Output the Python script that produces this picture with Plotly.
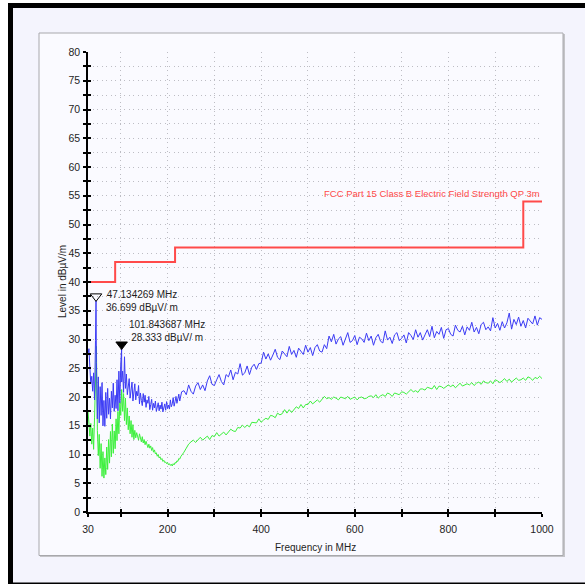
import numpy as np
import plotly.graph_objects as go

# Sweep definition: two segments (start MHz, step MHz)
seg_a_start, seg_a_step = 30, 2
seg_b_start, seg_b_step = 235, 5

# Peak detector levels (dBµV/m), 30..230 MHz
peak_a = [27.5, 28.4, 25.1, 22.3, 23.6, 21.0, 24.2, 19.5, 29.8, 26.0,
          16.2, 23.5, 15.5, 21.8, 16.8, 22.5, 15.0, 19.4, 14.9, 20.8,
          16.3, 21.5, 17.0, 19.8, 16.2, 21.0, 18.1, 22.4, 17.5, 20.3,
          18.0, 23.0, 17.6, 24.5, 19.0, 25.8, 22.6, 24.5, 20.8, 27.0,
          21.5, 24.0, 20.4, 22.1, 23.2, 19.8, 21.4, 22.6, 19.3, 20.6,
          22.3, 19.5, 21.0, 20.2, 22.0, 18.8, 20.7, 19.4, 18.5, 20.6,
          19.1, 20.3, 18.2, 19.5, 18.9, 20.1, 17.8, 18.7, 19.6, 17.7,
          18.9, 18.1, 19.3, 17.5, 18.4, 19.0, 17.6, 18.6, 17.9, 19.1,
          17.4, 18.3, 18.8, 17.7, 19.2, 18.0, 18.6, 17.9, 19.5, 18.3,
          18.8, 19.9, 18.4, 19.2, 20.1, 18.9, 19.6, 20.5, 19.3, 20.2,
          20.9]

# Peak detector levels (dBµV/m), 235..1000 MHz
peak_b = [21.1, 20.4, 22.1, 21.0, 20.5, 21.9, 22.5, 21.3, 22.1, 21.1,
          22.8, 23.7, 22.2, 22.0, 23.0, 23.9, 22.7, 22.1, 23.9, 23.5,
          24.7, 23.0, 24.3, 24.0, 25.8, 23.8, 24.2, 25.4, 23.9, 25.2,
          25.7, 24.8, 25.8,
          25.9, 27.8, 26.6, 27.5, 26.4, 27.3, 28.3, 26.9, 26.5, 28.0,
          27.4, 27.0, 28.8, 27.4, 28.1, 26.9, 28.5, 28.0, 27.4, 29.0,
          27.8, 28.6, 27.2, 28.6, 29.1, 28.0, 27.8, 29.1, 28.4,
          30.6, 29.6, 30.9, 29.2, 30.1, 30.5, 29.0, 30.3, 31.2, 29.5,
          29.8, 30.7, 29.1, 30.4, 30.1, 29.5, 31.1, 29.8, 30.6, 29.0,
          30.3, 30.9, 29.7, 29.4, 31.5, 29.9, 30.4, 29.3, 30.8, 31.2,
          29.8, 30.2, 30.8, 29.4, 31.2, 30.7, 30.0, 31.7, 30.4, 31.2,
          29.9, 30.8, 31.7, 30.5, 32.3, 30.3, 31.4, 30.9, 32.1, 30.2,
          31.7, 31.9, 30.9, 30.6, 32.5, 31.6, 31.3, 32.3, 30.8, 32.2,
          31.6, 33.0, 31.3, 32.1, 31.0, 32.6, 33.0, 31.7, 32.2, 31.5,
          33.8, 32.0, 32.8, 31.6, 33.1, 32.0, 32.9, 34.6, 31.8, 33.5,
          32.6, 33.9, 32.3, 33.3, 32.0, 33.7, 33.2, 32.7, 34.1, 32.5,
          33.8, 33.5]

# Average detector levels (dBµV/m), 30..230 MHz
avg_a = [17.6, 16.0, 13.2, 15.4, 11.8, 14.6, 10.9, 16.5, 22.0, 28.8,
         14.2, 9.8, 13.5, 7.6, 11.9, 6.2, 10.5, 5.9, 9.4, 6.5,
         11.3, 7.4, 12.6, 8.5, 14.0, 9.6, 15.3, 10.2, 14.1, 11.0,
         16.2, 12.4, 17.5, 13.6, 19.2, 16.8, 21.3, 17.5, 20.6, 15.9,
         19.8, 15.2, 18.1, 14.3, 16.7, 13.6, 15.9, 13.0, 15.2, 12.6,
         14.2, 12.9, 13.8, 13.1, 12.5, 13.6, 12.7, 12.2, 13.1, 12.0,
         12.6, 11.7, 12.3, 11.9, 11.2, 11.8, 11.1, 11.5, 10.7, 11.2,
         10.4, 10.8, 10.1, 10.3, 9.7, 10.0, 9.4, 9.6, 9.1, 9.3,
         8.8, 9.0, 8.6, 8.7, 8.4, 8.6, 8.2, 8.4, 8.1, 8.3,
         8.0, 8.4, 8.2, 8.6, 8.5, 8.9, 8.8, 9.3, 9.2, 9.6,
         9.9]

# Average detector levels (dBµV/m), 235..1000 MHz
avg_b = [10.4, 11.1, 11.8, 12.2,
         12.5, 12.1, 12.6, 13.0, 12.5, 12.8, 13.2, 12.6, 13.3, 13.1,
         13.8, 13.2, 13.5, 13.9, 13.4, 14.0, 14.4, 14.1, 14.0, 14.7,
         14.6, 15.1, 14.7, 15.1, 14.8, 15.6, 15.6, 15.5, 16.2, 15.6,
         16.0, 16.3, 16.1, 16.8, 16.7, 16.4, 17.2, 16.9, 17.1, 17.8,
         17.2, 17.8, 17.3, 17.9, 18.3, 18.0, 18.7, 18.1, 18.7, 18.7,
         19.3, 18.8, 19.2, 19.5, 19.1, 19.7, 20.1, 19.7,
         19.9, 19.6, 20.0, 19.8, 19.5, 20.0, 19.9, 19.7, 20.1, 19.6,
         19.8, 20.0, 19.5, 19.9, 20.0, 19.7, 19.8, 20.1,
         20.2, 19.9, 20.4, 19.8, 20.2, 20.4, 20.1, 20.7, 20.5, 20.1,
         20.7, 20.5, 20.4, 20.9, 20.8, 20.5, 21.0, 21.3, 20.9, 21.1,
         20.8, 21.4, 21.4, 21.2, 21.7, 21.5, 21.4, 22.0, 21.3, 21.9,
         21.8, 21.5, 21.8, 22.1, 21.8, 22.1, 21.6, 22.1, 22.4, 21.9,
         22.1, 22.3, 22.1, 22.5, 22.0, 22.4, 22.6, 22.2, 22.8, 22.5,
         22.4, 22.8, 22.3, 23.0, 22.8, 22.5, 22.8, 23.2, 22.7, 23.1,
         22.6, 23.0, 23.3, 22.9, 23.0, 23.3, 22.9, 23.5, 23.3, 22.9,
         23.4, 23.2, 23.6, 23.2]

# FCC Part 15 Class B QP 3 m limit
limit_freq = [30, 88, 216, 960, 1000]
limit_level = [40, 43.5, 46, 54, 54]
limit_name = "FCC Part 15 Class B Electric Field Strength QP 3m"

# Peak markers
marker_freq = [47.134269, 101.843687]
marker_level = [36.699, 28.333]
marker_symbol = ["triangle-down-open", "triangle-down"]

x_ticks = [30, 100, 200, 300, 400, 500, 600, 700, 800, 900, 1000]
x_labels = ["30", "", "200", "", "400", "", "600", "", "800", "", "1000"]
y_ticks = [i * 2.5 for i in range(33)]
y_labels = [str(int(v)) if v % 5 == 0 else "" for v in y_ticks]

# ---- assemble traces ----
freq_a = seg_a_start + seg_a_step * np.arange(len(peak_a))
freq_b = seg_b_start + seg_b_step * np.arange(len(peak_b))
freq = np.concatenate([freq_a, freq_b]).astype(float)
peak = np.concatenate([peak_a, peak_b]).astype(float)
avg = np.concatenate([avg_a, avg_b]).astype(float)

# the marked peaks are part of the peak trace
pk_f = np.concatenate([freq, marker_freq])
pk_v = np.concatenate([peak, marker_level])
order = np.argsort(pk_f, kind="stable")
pk_f, pk_v = pk_f[order], pk_v[order]

W, H = 585, 584
ML, MR, MT, MB = 88, 43, 52, 72
PW, PH = W - ML - MR, H - MT - MB


def px(x):
    return (x - ML) / PW


def py(y):
    return (H - MB - y) / PH


FONT = "Liberation Sans, Arial, sans-serif"
TXT = "#1e1e1e"
BLUE = "#3b3bf5"
GREEN = "#3cf03c"
RED = "#ff4a4a"
GRID = "#bdbdc4"

fig = go.Figure()
fig.add_trace(go.Scatter(x=freq, y=avg, mode="lines",
                         line=dict(color=GREEN, width=1), hoverinfo="skip"))
fig.add_trace(go.Scatter(x=pk_f, y=pk_v, mode="lines",
                         line=dict(color=BLUE, width=1), hoverinfo="skip"))
fig.add_trace(go.Scatter(x=limit_freq, y=limit_level, mode="lines",
                         line=dict(color=RED, width=2, shape="hv"),
                         hoverinfo="skip"))
# marker triangles sit just above the marked level (0.8 dB ~ half a glyph)
fig.add_trace(go.Scatter(x=marker_freq, y=[v + 0.8 for v in marker_level],
                         mode="markers",
                         marker=dict(symbol=marker_symbol, size=10,
                                     color="black",
                                     line=dict(color="black", width=1)),
                         hoverinfo="skip"))
# overlay axes carry the inner half of the crossing tick marks
fig.add_trace(go.Scatter(x=[], y=[], xaxis="x2", yaxis="y2",
                         hoverinfo="skip"))

shapes = [
    # black frame
    dict(type="rect", xref="paper", yref="paper", x0=px(8), x1=px(600),
         y0=py(3), y1=py(600), fillcolor="black", line_width=0,
         layer="below"),
    dict(type="rect", xref="paper", yref="paper", x0=px(13), x1=px(600),
         y0=py(8), y1=py(582.5), fillcolor="#f4f4fd", line_width=0,
         layer="below"),
    # panel shadow and panel
    dict(type="rect", xref="paper", yref="paper", x0=px(40), x1=px(565),
         y0=py(34), y1=py(557), fillcolor="#c4c4c8", line_width=0,
         layer="below"),
    dict(type="rect", xref="paper", yref="paper", x0=px(39), x1=px(563),
         y0=py(33), y1=py(555.5), fillcolor="#fafaff",
         line=dict(color="#a8a8ac", width=1), layer="below"),
]

annotations = [
    dict(x=limit_freq[-1], y=limit_level[-1], xref="x", yref="y",
         text=limit_name, showarrow=False, xanchor="right",
         yanchor="bottom", yshift=1,
         font=dict(family=FONT, size=9.5, color=RED)),
    dict(x=px(315), y=py(547), xref="paper", yref="paper",
         xanchor="center", yanchor="middle",
         text="Frequency in MHz", showarrow=False,
         font=dict(family=FONT, size=10, color=TXT)),
    dict(x=px(62), y=py(282), xref="paper", yref="paper",
         xanchor="center", yanchor="middle",
         text="Level in dBµV/m", showarrow=False, textangle=-90,
         font=dict(family=FONT, size=10, color=TXT)),
]
marker_shift = [(8, 0), (5, 18)]
for f, v, (dx, dy) in zip(marker_freq, marker_level, marker_shift):
    annotations.append(dict(
        x=f, y=v, xref="x", yref="y",
        text=f"{f:.6f} MHz<br>{v:.3f} dBµV/ m",
        showarrow=False, xanchor="left", yanchor="middle", align="center",
        xshift=dx, yshift=dy,
        font=dict(family=FONT, size=10, color=TXT)))

axis_common = dict(showline=True, linecolor="black", linewidth=1.5,
                   tickcolor="black", tickwidth=1.5, ticklen=3,
                   zeroline=False, showgrid=True, gridcolor=GRID,
                   griddash="1px,3.5px", gridwidth=1,
                   tickfont=dict(family=FONT, size=10.5, color=TXT))

fig.update_layout(
    width=W, height=H,
    margin=dict(l=ML, r=MR, t=MT, b=MB),
    paper_bgcolor="white",
    plot_bgcolor="rgba(0,0,0,0)",
    showlegend=False,
    shapes=shapes,
    annotations=annotations,
    xaxis=dict(range=[30, 1000], tickmode="array", tickvals=x_ticks,
               ticktext=x_labels, ticks="outside",
               ticklabelstandoff=4, **axis_common),
    yaxis=dict(range=[0, 80], tickmode="array", tickvals=y_ticks,
               ticktext=y_labels, ticks="outside",
               ticklabelstandoff=1, **axis_common),
    xaxis2=dict(range=[30, 1000], overlaying="x", anchor="y2",
                side="bottom", tickmode="array", tickvals=x_ticks,
                ticks="inside", ticklen=3, tickwidth=1.5,
                tickcolor="black", showticklabels=False, showgrid=False,
                showline=False, zeroline=False),
    yaxis2=dict(range=[0, 80], overlaying="y", anchor="x2", side="left",
                tickmode="array", tickvals=y_ticks, ticks="inside",
                ticklen=3, tickwidth=1.5, tickcolor="black",
                showticklabels=False, showgrid=False, showline=False,
                zeroline=False),
)

fig.write_html("out.html")
